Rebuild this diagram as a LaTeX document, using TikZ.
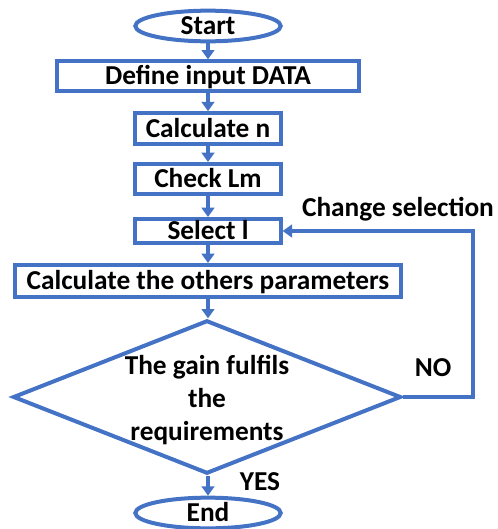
\documentclass[tikz,border=0pt]{standalone}
\usepackage{fontspec}
\setmainfont{Carlito}
\usetikzlibrary{shapes.geometric,arrows.meta}
\definecolor{flowblue}{HTML}{4472C4}
\begin{document}
\begin{tikzpicture}[x=0.75pt, y=-0.75pt,
    every node/.style={font=\bfseries\fontsize{20.5}{24.4}\selectfont},
    terminal/.style={draw=flowblue, line width=3pt, ellipse, inner sep=0pt, text height=13pt, text depth=0pt, minimum width=109pt, minimum height=23pt},
    process/.style={draw=flowblue, line width=3pt, rectangle, inner sep=0pt, text height=13pt, text depth=0pt},
    decision/.style={draw=flowblue, line width=3pt, diamond, aspect=2.5, inner sep=-8pt, minimum width=291pt, minimum height=115pt, align=center},
    flow/.style={draw=flowblue, line width=3pt, -{Triangle[length=7pt,width=9.5pt]}}]
        \useasboundingbox (0,0) rectangle (497,529);
        % Boxes
        \node[terminal] (start) at (208,26) {Start};
        \node[process, minimum width=227pt, minimum height=22pt] (define) at (208,76) {Define input DATA};
        \node[process, minimum width=109pt, minimum height=23pt] (calcn) at (208,128.5) {Calculate n};
        \node[process, minimum width=109pt, minimum height=22.5pt] (checklm) at (208,179) {Check Lm};
        \node[process, minimum width=109pt, minimum height=18pt] (select) at (208,231) {Select l};
        \node[process, minimum width=289pt, minimum height=24pt] (others) at (208,281) {Calculate the others parameters};
        \node[decision] (gain) at (207,397) {\rule{0pt}{19pt}The gain fulfils\\the\\requirements};
        \node[terminal] (end) at (208,513) {End};
        % Main flow
        \draw[flow] (start) -- (define);
        \draw[flow] (define) -- (calcn);
        \draw[flow] (calcn) -- (checklm);
        \draw[flow] (checklm) -- (select);
        \draw[flow] (select) -- (others);
        \draw[flow] (others) -- (others |- gain.north);
        \draw[flow] (gain.south -| end) -- (end);
        % Loop back
        \coordinate (turn) at (473,397);
        \draw[flow] (gain.east) -- (turn) |- (select.east);
        % Labels
        \node (change) at (398,209) {Change selection};
        \node (no) at (433,368) {NO};
        \node (yes) at (260,482) {YES};
\end{tikzpicture}
\end{document}
